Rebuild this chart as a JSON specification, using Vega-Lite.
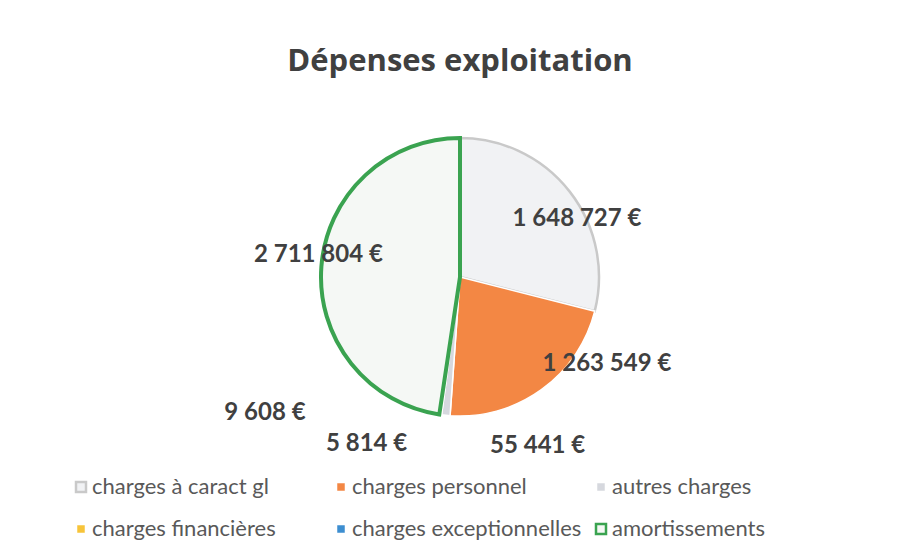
{
  "$schema": "https://vega.github.io/schema/vega-lite/v6.json",
  "width": 876,
  "height": 394,
  "autosize": {"type": "none"},
  "padding": {"left": 22, "top": 80, "right": 0, "bottom": 72},
  "background": "white",
  "config": {
    "view": {"stroke": null},
    "locale": {"number": {"decimal": ",", "thousands": " ", "grouping": [3], "currency": ["", " €"]}}
  },
  "title": {
    "text": "Dépenses exploitation",
    "font": "Open Sans",
    "fontSize": 31,
    "fontWeight": "bold",
    "color": "#404040",
    "anchor": "middle",
    "frame": "group",
    "baseline": "alphabetic",
    "offset": 13,
    "dy": 35
  },
  "data": {
    "values": [
      {"category": "charges à caract gl", "value": 1648727, "ord": 1},
      {"category": "charges personnel", "value": 1263549, "ord": 2},
      {"category": "autres charges", "value": 55441, "ord": 3},
      {"category": "charges financières", "value": 9608, "ord": 4},
      {"category": "charges exceptionnelles", "value": 5814, "ord": 5},
      {"category": "amortissements", "value": 2711804, "ord": 6}
    ]
  },
  "encoding": {
    "theta": {"field": "value", "type": "quantitative", "stack": true},
    "order": {"field": "ord", "type": "quantitative"}
  },
  "layer": [
    {
      "mark": {"type": "arc", "radius": 139},
      "encoding": {
        "fill": {
          "field": "category",
          "type": "nominal",
          "scale": {
            "domain": ["charges à caract gl", "charges personnel", "autres charges", "charges financières", "charges exceptionnelles", "amortissements"],
            "range": ["#f1f2f4", "#f38744", "#d6d8de", "#f7c43a", "#3d8ed0", "#f5f8f5"]
          },
          "legend": {
            "orient": "none",
            "legendX": 48,
            "legendY": 396,
            "direction": "horizontal",
            "columns": 3,
            "title": null,
            "symbolType": "square",
            "symbolSize": 100,
            "symbolStrokeWidth": 2.5,
            "labelFont": "Lato",
            "labelFontSize": 22,
            "labelColor": "#595959",
            "labelOffset": 0,
            "columnPadding": 8,
            "rowPadding": 20,
            "gridAlign": "all",
            "labelLimit": 400
          }
        },
        "stroke": {
          "field": "category",
          "type": "nominal",
          "scale": {
            "domain": ["charges à caract gl", "charges personnel", "autres charges", "charges financières", "charges exceptionnelles", "amortissements"],
            "range": ["#c9c9c9", "#ffffff", "#ffffff", "#ffffff", "#ffffff", "#3aa350"]
          }
        },
        "strokeWidth": {
          "condition": [
            {"test": "datum.category === 'amortissements'", "value": 4},
            {"test": "datum.category === 'charges à caract gl'", "value": 2.5}
          ],
          "value": 1.5
        }
      }
    },
    {
      "mark": {"type": "text", "radius": 128, "dx": 16, "dy": 21, "font": "Lato", "fontSize": 24, "fontWeight": "bold", "color": "#404040", "baseline": "middle", "align": "center"},
      "encoding": {
        "text": {"field": "value", "type": "quantitative", "format": "$,.0f"},
        "opacity": {"condition": {"test": "datum.category === 'charges à caract gl'", "value": 1}, "value": 0}
      }
    },
    {
      "mark": {"type": "text", "radius": 157, "dx": 55, "dy": -40, "font": "Lato", "fontSize": 24, "fontWeight": "bold", "color": "#404040", "baseline": "middle", "align": "center"},
      "encoding": {
        "text": {"field": "value", "type": "quantitative", "format": "$,.0f"},
        "opacity": {"condition": {"test": "datum.category === 'charges personnel'", "value": 1}, "value": 0}
      }
    },
    {
      "mark": {"type": "text", "radius": 160, "dx": 94, "dy": 10, "font": "Lato", "fontSize": 24, "fontWeight": "bold", "color": "#404040", "baseline": "middle", "align": "center"},
      "encoding": {
        "text": {"field": "value", "type": "quantitative", "format": "$,.0f"},
        "opacity": {"condition": {"test": "datum.category === 'autres charges'", "value": 1}, "value": 0}
      }
    },
    {
      "mark": {"type": "text", "radius": 160, "dx": -173, "dy": -22, "font": "Lato", "fontSize": 24, "fontWeight": "bold", "color": "#404040", "baseline": "middle", "align": "center"},
      "encoding": {
        "text": {"field": "value", "type": "quantitative", "format": "$,.0f"},
        "opacity": {"condition": {"test": "datum.category === 'charges financières'", "value": 1}, "value": 0}
      }
    },
    {
      "mark": {"type": "text", "radius": 160, "dx": -70, "dy": 9, "font": "Lato", "fontSize": 24, "fontWeight": "bold", "color": "#404040", "baseline": "middle", "align": "center"},
      "encoding": {
        "text": {"field": "value", "type": "quantitative", "format": "$,.0f"},
        "opacity": {"condition": {"test": "datum.category === 'charges exceptionnelles'", "value": 1}, "value": 0}
      }
    },
    {
      "mark": {"type": "text", "radius": 143, "dx": 1, "dy": -11, "font": "Lato", "fontSize": 24, "fontWeight": "bold", "color": "#404040", "baseline": "middle", "align": "center"},
      "encoding": {
        "text": {"field": "value", "type": "quantitative", "format": "$,.0f"},
        "opacity": {"condition": {"test": "datum.category === 'amortissements'", "value": 1}, "value": 0}
      }
    }
  ]
}
